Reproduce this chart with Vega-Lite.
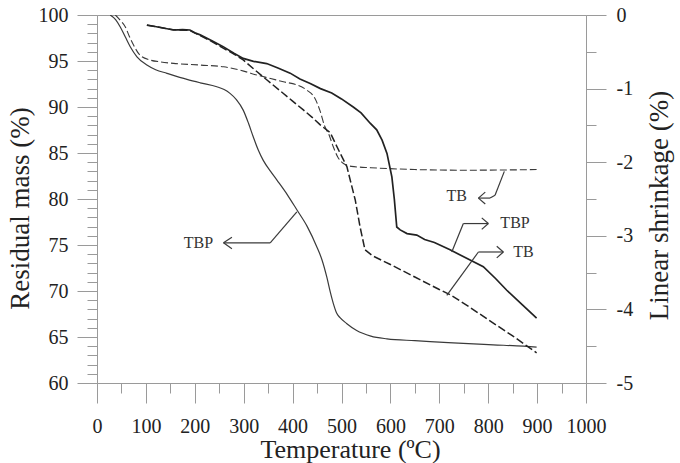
{
  "$schema": "https://vega.github.io/schema/vega-lite/v6.json",
  "width": 489,
  "height": 368,
  "autosize": {"type": "none"},
  "padding": {"left": 97, "top": 15, "right": 94, "bottom": 80},
  "config": {
    "view": {"stroke": "#9a9a9a", "strokeWidth": 1},
    "font": "Liberation Serif",
    "axis": {
      "grid": false,
      "domainColor": "#9a9a9a",
      "tickColor": "#9a9a9a",
      "labelColor": "#222222",
      "labelFont": "Liberation Serif",
      "labelFontSize": 20,
      "titleFont": "Liberation Serif",
      "titleFontSize": 27,
      "titleFontWeight": "normal",
      "titleColor": "#222222",
      "labelFlush": false,
      "labelOverlap": false
    }
  },
  "datasets": {
    "tbpMass": [
      {"t": 27, "m": 100}, {"t": 38, "m": 99.5}, {"t": 47.6, "m": 98.7}, {"t": 58, "m": 97.6}, {"t": 68, "m": 96.55},
      {"t": 81.7, "m": 95.46}, {"t": 102, "m": 94.56}, {"t": 120, "m": 94.05}, {"t": 143, "m": 93.66}, {"t": 184, "m": 93.0},
      {"t": 211, "m": 92.63}, {"t": 245, "m": 92.2}, {"t": 260, "m": 91.9}, {"t": 272, "m": 91.48}, {"t": 285, "m": 90.8},
      {"t": 299, "m": 89.66}, {"t": 310, "m": 88.2}, {"t": 319.5, "m": 86.76}, {"t": 330, "m": 85.3}, {"t": 340, "m": 84.2},
      {"t": 355, "m": 83.0}, {"t": 368, "m": 82.05}, {"t": 390, "m": 80.4}, {"t": 409, "m": 78.8}, {"t": 430, "m": 77.0},
      {"t": 449.6, "m": 74.79}, {"t": 460, "m": 73.4}, {"t": 470, "m": 71.5}, {"t": 477, "m": 69.9}, {"t": 483.5, "m": 68.6},
      {"t": 490, "m": 67.6}, {"t": 497, "m": 67.1}, {"t": 511, "m": 66.45}, {"t": 531, "m": 65.7}, {"t": 560, "m": 65.1},
      {"t": 593, "m": 64.8}, {"t": 650, "m": 64.6}, {"t": 700, "m": 64.45}, {"t": 749, "m": 64.3}, {"t": 810, "m": 64.15},
      {"t": 872, "m": 64.0}, {"t": 899, "m": 63.9}
    ],
    "tbMass": [
      {"t": 37.6, "m": 100}, {"t": 48, "m": 99.4}, {"t": 58, "m": 98.7}, {"t": 66, "m": 97.7}, {"t": 75, "m": 96.7},
      {"t": 88.5, "m": 95.6}, {"t": 109, "m": 95.1}, {"t": 130, "m": 94.9}, {"t": 156.6, "m": 94.74}, {"t": 211, "m": 94.56},
      {"t": 259, "m": 94.37}, {"t": 300, "m": 93.9}, {"t": 327, "m": 93.47}, {"t": 355, "m": 93.1}, {"t": 381, "m": 92.74},
      {"t": 409, "m": 92.4}, {"t": 429, "m": 91.84}, {"t": 445, "m": 91.0}, {"t": 456, "m": 89.6}, {"t": 465, "m": 88.0},
      {"t": 475, "m": 86.9}, {"t": 483, "m": 85.7}, {"t": 492, "m": 84.6}, {"t": 504, "m": 83.86}, {"t": 520, "m": 83.55},
      {"t": 560, "m": 83.4}, {"t": 599, "m": 83.3}, {"t": 650, "m": 83.2}, {"t": 756, "m": 83.13}, {"t": 899, "m": 83.2}
    ],
    "tbpShrink": [
      {"t": 102, "s": -0.136}, {"t": 130, "s": -0.17}, {"t": 156.5, "s": -0.204}, {"t": 175, "s": -0.2}, {"t": 190, "s": -0.204},
      {"t": 200, "s": -0.24}, {"t": 211, "s": -0.27}, {"t": 235, "s": -0.35}, {"t": 258, "s": -0.43}, {"t": 280, "s": -0.52},
      {"t": 299, "s": -0.59}, {"t": 320, "s": -0.63}, {"t": 347, "s": -0.66}, {"t": 370, "s": -0.72}, {"t": 395, "s": -0.79},
      {"t": 415, "s": -0.87}, {"t": 436, "s": -0.93}, {"t": 457, "s": -1.0}, {"t": 480, "s": -1.06}, {"t": 500, "s": -1.14},
      {"t": 524, "s": -1.25}, {"t": 540, "s": -1.33}, {"t": 558.6, "s": -1.47}, {"t": 572, "s": -1.56}, {"t": 583, "s": -1.7},
      {"t": 593, "s": -1.88}, {"t": 603, "s": -2.2}, {"t": 608, "s": -2.5}, {"t": 613, "s": -2.88}, {"t": 620, "s": -2.92},
      {"t": 634, "s": -2.97}, {"t": 654, "s": -2.99}, {"t": 670, "s": -3.05}, {"t": 690, "s": -3.09}, {"t": 722, "s": -3.19},
      {"t": 763, "s": -3.33}, {"t": 790, "s": -3.42}, {"t": 815, "s": -3.58}, {"t": 838, "s": -3.74}, {"t": 870, "s": -3.94},
      {"t": 899, "s": -4.12}
    ],
    "tbShrink": [
      {"t": 102, "s": -0.14}, {"t": 130, "s": -0.17}, {"t": 156, "s": -0.2}, {"t": 190, "s": -0.21}, {"t": 211, "s": -0.28},
      {"t": 235, "s": -0.36}, {"t": 258, "s": -0.45}, {"t": 280, "s": -0.53}, {"t": 299, "s": -0.61}, {"t": 320, "s": -0.73},
      {"t": 347, "s": -0.88}, {"t": 380, "s": -1.06}, {"t": 400, "s": -1.17}, {"t": 422, "s": -1.29}, {"t": 440, "s": -1.39},
      {"t": 456, "s": -1.49}, {"t": 477, "s": -1.6}, {"t": 497, "s": -1.875}, {"t": 511, "s": -2.06}, {"t": 520, "s": -2.3},
      {"t": 528, "s": -2.51}, {"t": 538, "s": -2.88}, {"t": 548, "s": -3.19}, {"t": 563, "s": -3.27}, {"t": 600, "s": -3.39},
      {"t": 650, "s": -3.56}, {"t": 700, "s": -3.73}, {"t": 722, "s": -3.8}, {"t": 760, "s": -3.96}, {"t": 800, "s": -4.14},
      {"t": 850, "s": -4.36}, {"t": 899, "s": -4.59}
    ],
    "arrows": [
      {"t1": 408.7, "m1": 78.6, "t2": 354.2, "m2": 75.24},
      {"t1": 354.2, "m1": 75.24, "t2": 258.7, "m2": 75.24},
      {"t1": 258.7, "m1": 75.24, "t2": 275.9, "m2": 75.85},
      {"t1": 258.7, "m1": 75.24, "t2": 275.9, "m2": 74.6},
      {"t1": 833, "m1": 83.0, "t2": 814, "m2": 80.41},
      {"t1": 814, "m1": 80.41, "t2": 803.8, "m2": 80.1},
      {"t1": 803.8, "m1": 80.1, "t2": 780, "m2": 80.1},
      {"t1": 780, "m1": 80.1, "t2": 794, "m2": 80.75},
      {"t1": 780, "m1": 80.1, "t2": 794, "m2": 79.45},
      {"t1": 725.5, "m1": 74.24, "t2": 749.2, "m2": 77.33},
      {"t1": 749.2, "m1": 77.33, "t2": 800.3, "m2": 77.33},
      {"t1": 800.3, "m1": 77.33, "t2": 786.8, "m2": 77.95},
      {"t1": 800.3, "m1": 77.33, "t2": 786.8, "m2": 76.7},
      {"t1": 715.3, "m1": 69.53, "t2": 780, "m2": 74.24},
      {"t1": 780, "m1": 74.24, "t2": 831, "m2": 74.24},
      {"t1": 831, "m1": 74.24, "t2": 817.5, "m2": 74.86},
      {"t1": 831, "m1": 74.24, "t2": 817.5, "m2": 73.6}
    ],
    "labels": [
      {"t": 207.6, "m": 75.24, "text": "TBP"},
      {"t": 735.7, "m": 80.3, "text": "TB"},
      {"t": 854.9, "m": 77.42, "text": "TBP"},
      {"t": 871.9, "m": 74.24, "text": "TB"}
    ]
  },
  "layer": [
    {
      "data": {"name": "tbpMass"},
      "mark": {"type": "line", "color": "#3a3a3a", "strokeWidth": 1.2, "interpolate": "monotone", "clip": true},
      "encoding": {
        "x": {
          "field": "t", "type": "quantitative",
          "scale": {"domain": [0, 1000], "nice": false},
          "axis": {
            "orient": "bottom", "values": [0, 100, 200, 300, 400, 500, 600, 700, 800, 900, 1000],
            "labelExpr": "'' + datum.value",
            "tickSize": 20, "labelPadding": 13, "title": "Temperature (ºC)",
            "titleFontSize": 26,
            "titleX": 253, "titleY": 74, "titleBaseline": "alphabetic"
          }
        },
        "y": {
          "field": "m", "type": "quantitative",
          "scale": {"domain": [60, 100], "nice": false, "zero": false},
          "axis": {
            "orient": "left", "values": [60, 65, 70, 75, 80, 85, 90, 95, 100],
            "tickSize": 20, "labelPadding": 9, "title": "Residual mass (%)",
            "titleX": -63, "titleY": 193, "titleAngle": -90, "titleBaseline": "bottom"
          }
        }
      }
    },
    {
      "data": {"name": "tbMass"},
      "mark": {"type": "line", "color": "#3a3a3a", "strokeWidth": 1.1, "strokeDash": [7, 3], "interpolate": "monotone", "clip": true},
      "encoding": {
        "x": {
          "field": "t", "type": "quantitative",
          "scale": {"domain": [0, 1000], "nice": false},
          "axis": {
            "orient": "bottom", "values": [50, 150, 250, 350, 450, 550, 650, 750, 850, 950],
            "tickSize": 10, "labels": false, "domain": false, "title": null
          }
        },
        "y": {
          "field": "m", "type": "quantitative",
          "scale": {"domain": [60, 100], "nice": false, "zero": false},
          "axis": {
            "orient": "left",
            "values": [61, 62, 63, 64, 66, 67, 68, 69, 71, 72, 73, 74, 76, 77, 78, 79, 81, 82, 83, 84, 86, 87, 88, 89, 91, 92, 93, 94, 96, 97, 98, 99],
            "tickSize": 10, "labels": false, "domain": false, "title": null
          }
        }
      }
    },
    {
      "data": {"name": "tbpShrink"},
      "mark": {"type": "line", "color": "#222222", "strokeWidth": 1.7, "clip": true},
      "encoding": {
        "x": {"field": "t", "type": "quantitative", "scale": {"domain": [0, 1000], "nice": false}, "axis": null},
        "y": {
          "field": "s", "type": "quantitative",
          "scale": {"domain": [-5, 0], "nice": false, "zero": false},
          "axis": {
            "orient": "right", "values": [-5, -4, -3, -2, -1, 0],
            "labelExpr": "'' + datum.value",
            "tickSize": 20, "labelPadding": 10, "title": "Linear shrinkage (%)",
            "titleX": 60, "titleY": 190, "titleAngle": -90, "titleBaseline": "top"
          }
        }
      }
    },
    {
      "data": {"name": "tbShrink"},
      "mark": {"type": "line", "color": "#222222", "strokeWidth": 1.5, "strokeDash": [8, 3], "clip": true},
      "encoding": {
        "x": {"field": "t", "type": "quantitative", "scale": {"domain": [0, 1000], "nice": false}, "axis": null},
        "y": {
          "field": "s", "type": "quantitative",
          "scale": {"domain": [-5, 0], "nice": false, "zero": false},
          "axis": {
            "orient": "right", "values": [-4.5, -3.5, -2.5, -1.5, -0.5],
            "tickSize": 10, "labels": false, "domain": false, "title": null
          }
        }
      }
    },
    {
      "data": {"name": "arrows"},
      "mark": {"type": "rule", "color": "#3a3a3a", "strokeWidth": 1.2},
      "encoding": {
        "x": {"field": "t1", "type": "quantitative", "scale": {"domain": [0, 1000], "nice": false}, "axis": null},
        "x2": {"field": "t2"},
        "y": {"field": "m1", "type": "quantitative", "scale": {"domain": [60, 100], "nice": false, "zero": false}, "axis": null},
        "y2": {"field": "m2"}
      }
    },
    {
      "data": {"name": "labels"},
      "mark": {"type": "text", "font": "Liberation Serif", "fontSize": 16, "color": "#333333", "align": "center", "baseline": "middle"},
      "encoding": {
        "x": {"field": "t", "type": "quantitative", "scale": {"domain": [0, 1000], "nice": false}, "axis": null},
        "y": {"field": "m", "type": "quantitative", "scale": {"domain": [60, 100], "nice": false, "zero": false}, "axis": null},
        "text": {"field": "text"}
      }
    }
  ],
  "resolve": {
    "scale": {"y": "independent"},
    "axis": {"x": "independent", "y": "independent"}
  }
}
